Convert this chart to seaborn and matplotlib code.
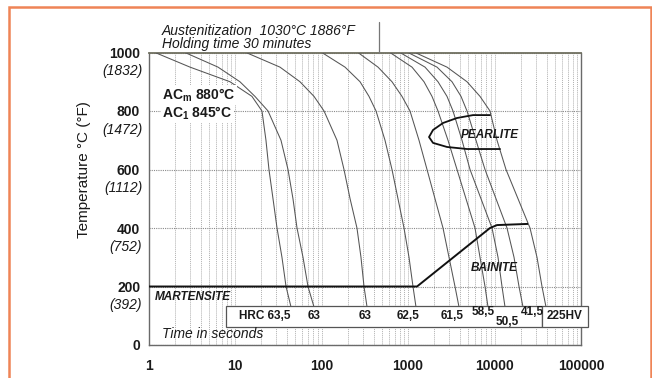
import matplotlib
matplotlib.use("Agg")
import matplotlib.pyplot as plt
from matplotlib.patches import Rectangle
from matplotlib.lines import Line2D
from matplotlib.ticker import LogLocator, NullFormatter, FixedLocator, FixedFormatter
import pandas as pd
import seaborn as sns

# Temperatures (°C) at which every cooling curve is tabulated
curve_temps = [1000, 950, 900, 850, 800, 700, 600, 500, 400, 300, 200, 130]

# Time (s) to reach each of those temperatures, one list per cooling rate
t_c1 = [1.19, 3.02, 8.75, 15.7, 20.5, 22.8, 24.7, 27.5, 30.6, 34.9, 38.9, 44.4]
t_c2 = [2.64, 6.36, 11.4, 17.0, 24.1, 34.0, 41.0, 46.8, 52.1, 61.1, 69.8, 81.9]
t_c3 = [13.4, 33.1, 56.4, 81.9, 107, 151, 182, 214, 257, 286, 310, 336]
t_c4 = [101, 187, 279, 354, 427, 542, 653, 766, 899, 1027, 1142, 1237]
t_c5 = [264, 450, 653, 852, 1055, 1340, 1659, 2052, 2539, 2979, 3494, 3888]
t_c6 = [619, 1112, 1531, 1894, 2222, 2900, 3686, 4683, 5952, 6798, 7767, 8413]
t_c7 = [808, 1573, 2222, 2824, 3313, 4210, 5211, 6982, 9357, 10980, 12210, 13230]
t_c8 = [1000, 2164, 3227, 4101, 4810, 6110, 7767, 10410, 13950, 16810, 19200, 21360]
t_c9 = [1205, 2824, 4810, 6798, 8872, 10690, 13580, 18700, 25730, 30990, 35410, 39390]
curve_times = [t_c1, t_c2, t_c3, t_c4, t_c5, t_c6, t_c7, t_c8, t_c9]

# Resulting hardness for each cooling curve
hardness = ["HRC 63,5", "63", "63", "62,5", "61,5", "58,5", "50,5", "41,5", "225HV"]

# Pearlite nose (upper arm, tip, lower arm)
pearlite_time = [8870, 5640, 3680, 2540, 1946, 1750, 1946, 2826, 4810, 11590]
pearlite_temp = [786, 786, 776, 759, 735, 711, 691, 677, 670, 670]

# Ms line continuing into the bainite start boundary
ms_bainite_time = [1, 1271, 8870, 10700, 24400]
ms_bainite_temp = [200, 200, 400, 410, 414]

# Axis ticks
x_ticks = [1, 10, 100, 1000, 10000, 100000]
x_tick_labels = ["1", "10", "100", "1000", "10000", "100000"]
y_ticks = [0, 200, 400, 600, 800, 1000]
y_tick_labels = ["0", "200", "400", "600", "800", "1000"]
y_fahrenheit = ["", "(392)", "(752)", "(1112)", "(1472)", "(1832)"]

sns.set_theme(style="white")
plt.rcParams["font.family"] = ["Liberation Sans", "DejaVu Sans"]
plt.rcParams["mathtext.fontset"] = "custom"
plt.rcParams["mathtext.rm"] = "Liberation Sans"
plt.rcParams["mathtext.bf"] = "Liberation Sans:bold"

W, H = 652, 378
fig = plt.figure(figsize=(W / 100, H / 100), dpi=100)
fig.patch.set_facecolor("white")
ax = fig.add_axes([148.5 / W, 33 / H, 432.5 / W, 292.5 / H])
ax.set_facecolor("white")

# Cooling curves
rows = []
for i, times in enumerate(curve_times):
    for t, T in zip(times, curve_temps):
        rows.append({"curve": i, "time": t, "temp": T})
df = pd.DataFrame(rows)
sns.lineplot(data=df, x="time", y="temp", units="curve", estimator=None,
             sort=False, color="#555555", linewidth=0.75, ax=ax, legend=False,
             zorder=3)

# Transformation boundaries
ax.plot(pearlite_time, pearlite_temp, color="#111111", lw=1.3, zorder=4,
        solid_capstyle="round", solid_joinstyle="round")
ax.plot(ms_bainite_time, ms_bainite_temp, color="#111111", lw=1.4, zorder=4,
        solid_capstyle="butt", solid_joinstyle="round")

ax.set_xscale("log")
ax.set_xlim(1, 1e5)
ax.set_ylim(0, 1000)
ax.set_xlabel("")
ax.set_ylabel("")

ax.xaxis.set_major_locator(FixedLocator(x_ticks))
ax.xaxis.set_major_formatter(FixedFormatter(x_tick_labels))
ax.xaxis.set_minor_locator(LogLocator(base=10, subs=range(2, 10), numticks=20))
ax.xaxis.set_minor_formatter(NullFormatter())
ax.yaxis.set_major_locator(FixedLocator(y_ticks))
ax.yaxis.set_major_formatter(FixedFormatter(y_tick_labels))

ax.grid(True, axis="x", which="both", color="#b0b0b0", linestyle=(0, (1, 1)),
        linewidth=0.7, zorder=0)
ax.grid(True, axis="y", which="major", color="#8a8a8a", linestyle=(0, (1, 1)),
        linewidth=0.8, zorder=0)

ax.tick_params(axis="x", which="major", direction="out", length=4, width=0.8,
               color="#666666", pad=6, labelsize=10)
ax.tick_params(axis="x", which="minor", length=0)
ax.tick_params(axis="y", which="major", direction="out", length=4, width=0.8,
               color="#666666", pad=2, labelsize=10)
for lab in ax.get_xticklabels() + ax.get_yticklabels():
    lab.set_fontweight("bold")
    lab.set_color("#1a1a1a")

for side in ["left", "bottom", "right", "top"]:
    ax.spines[side].set_visible(True)
    ax.spines[side].set_color("#6a6a6a")
    ax.spines[side].set_linewidth(1.0)
ax.spines["top"].set_color("#707060")
ax.spines["top"].set_linewidth(1.3)

# Fahrenheit equivalents beneath the Celsius tick labels
for T, f in zip(y_ticks, y_fahrenheit):
    if f:
        ax.annotate(f, xy=(0, T), xycoords=("axes fraction", "data"),
                    xytext=(-4.5, -13.5), textcoords="offset points",
                    ha="right", va="center", fontsize=10, style="italic",
                    color="#1a1a1a", annotation_clip=False)

fig.text(84 / W, 1 - 170 / H, "Temperature °C (°F)", rotation=90,
         ha="center", va="center", fontsize=11, color="#1a1a1a")

# Hardness strip along the bottom
ax.add_patch(Rectangle((7.87, 62), 35410 - 7.87, 133 - 62, facecolor="white",
                       edgecolor="#555555", lw=0.9, zorder=6, clip_on=False))
ax.add_patch(Rectangle((35410, 62), 120500 - 35410, 133 - 62,
                       facecolor="white", edgecolor="#555555", lw=0.9,
                       zorder=6, clip_on=False))
label_dx = [0, 0, -2, -8, -7, -5, 2, 9, 19]
label_dy = [0, 0, 0, 0, 0, 4, -6, 4, 0]
for times, lab, dx, dy in zip(curve_times, hardness, label_dx, label_dy):
    ax.annotate(lab, xy=(times[-1], 99), xycoords="data",
                xytext=(dx * 0.72, dy * 0.72), textcoords="offset points",
                ha="right" if lab.startswith("HRC") else "center",
                va="center", fontsize=8.5, fontweight="bold",
                color="#1a1a1a", zorder=7, annotation_clip=False)

# Region and condition labels
ax.text(1.19, 164, "MARTENSITE", fontsize=8.5, fontweight="bold",
        style="italic", ha="left", va="center", color="#1a1a1a", zorder=7)
ax.text(9870, 263, "BAINITE", fontsize=8.5, fontweight="bold",
        style="italic", ha="center", va="center", color="#1a1a1a", zorder=7)
ax.text(8870, 718, "PEARLITE", fontsize=8.5, fontweight="bold",
        style="italic", ha="center", va="center", color="#1a1a1a", zorder=7)
ax.text(1.43, 38, "Time in seconds", fontsize=10, style="italic",
        ha="left", va="center", color="#1a1a1a", zorder=7)
ax.text(1.43, 855, r"AC$_\mathbf{m}$ 880°C", fontsize=10, fontweight="bold",
        ha="left", va="center", color="#1a1a1a", zorder=7,
        bbox=dict(facecolor="white", edgecolor="none", pad=1))
ax.text(1.43, 793, r"AC$_\mathbf{1}$ 845°C", fontsize=10, fontweight="bold",
        ha="left", va="center", color="#1a1a1a", zorder=7,
        bbox=dict(facecolor="white", edgecolor="none", pad=1))

# Austenitizing conditions box above the plot
ax.add_line(Line2D([462, 462], [1000, 1104], color="#777777", lw=0.9,
                   clip_on=False, zorder=6))
ax.text(1.43, 1074, "Austenitization  1030°C 1886°F", fontsize=10,
        style="italic", ha="left", va="center", color="#1a1a1a", clip_on=False)
ax.text(1.43, 1029, "Holding time 30 minutes", fontsize=10,
        style="italic", ha="left", va="center", color="#1a1a1a", clip_on=False)

# Orange frame around the figure
fig.add_artist(Rectangle((9 / W, -0.02), (651 - 9) / W, 1.02 - 7 / H,
                         transform=fig.transFigure, fill=False,
                         edgecolor="#ef8456", lw=1.8))

fig.savefig("out.png", dpi=100)
